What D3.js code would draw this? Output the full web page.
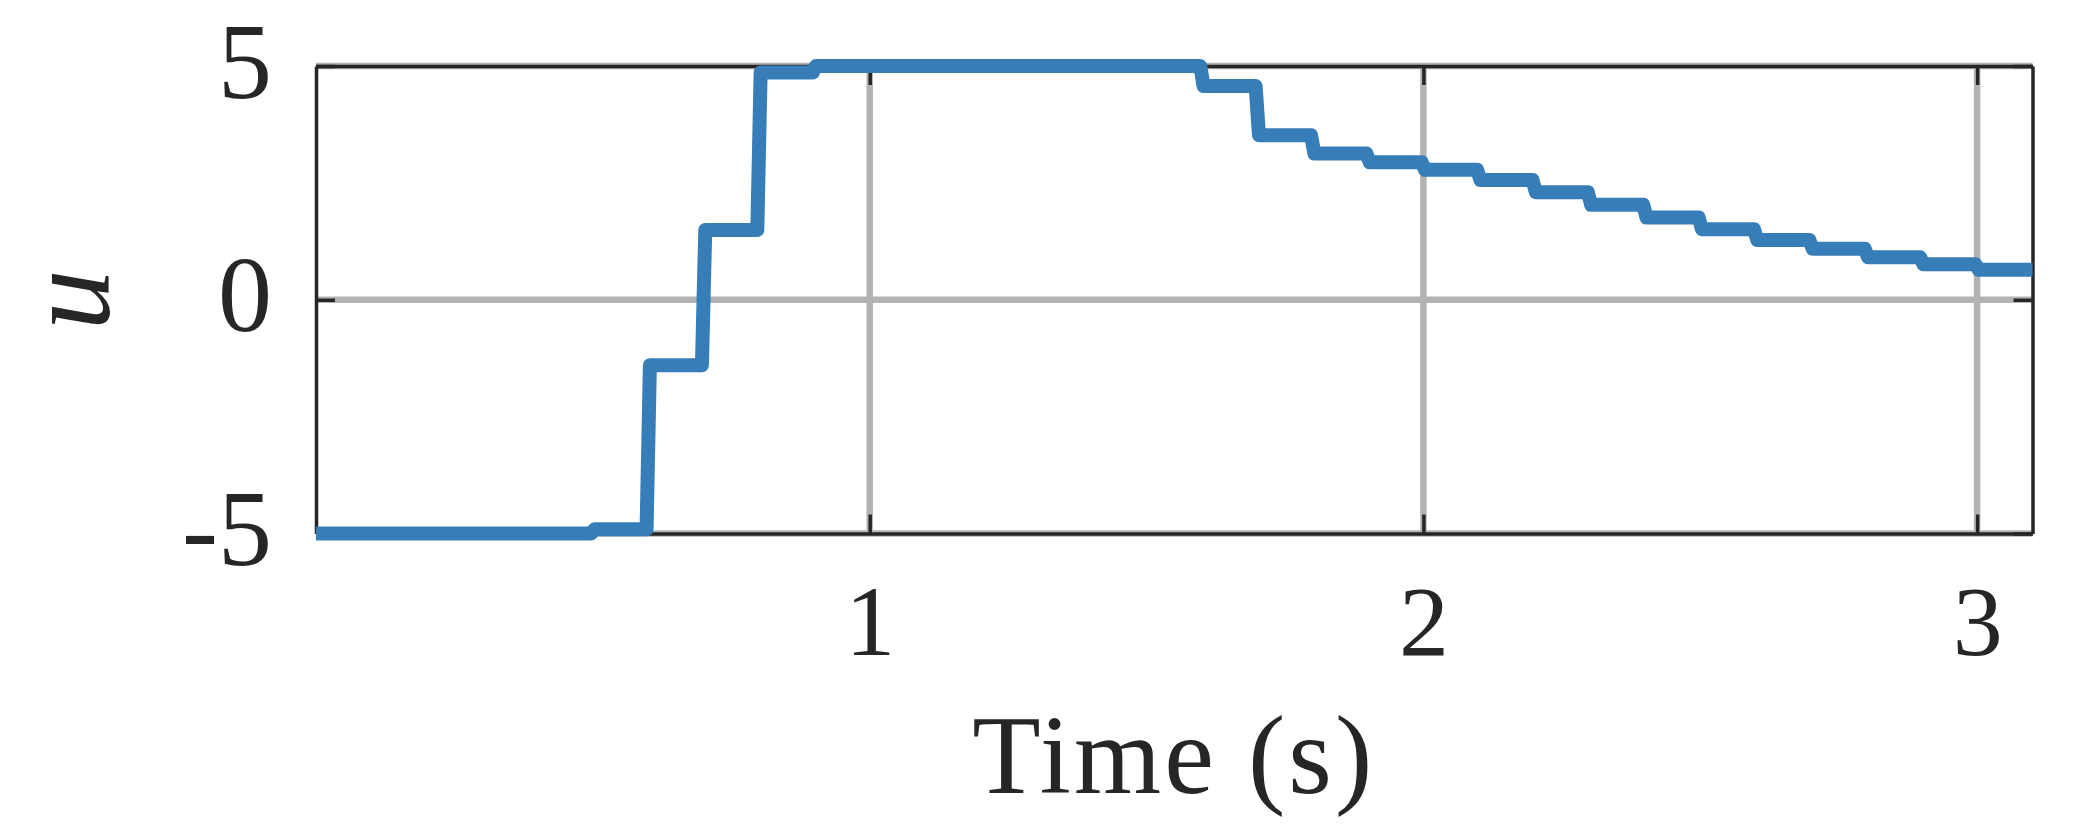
<!DOCTYPE html>
<html>
<head>
<meta charset="utf-8">
<script src="https://cdn.jsdelivr.net/npm/d3@7/dist/d3.min.js"></script>
<style>
  html, body { margin: 0; padding: 0; background: #ffffff; }
  svg { display: block; }
</style>
</head>
<body>
<div id="chart"></div>
<script>
// ---- data ----
const stepTimes  = [0, 0.5, 0.6, 0.7, 0.8, 0.9, 1.6, 1.7, 1.8, 1.9, 2.0, 2.1, 2.2, 2.3, 2.4, 2.5, 2.6, 2.7, 2.8, 2.9, 3.0];
const stepValues = [-5, -4.91, -1.40, 1.49, 4.86, 5.0, 4.57, 3.52, 3.13, 2.94, 2.78, 2.56, 2.30, 2.03, 1.76, 1.51, 1.28, 1.09, 0.91, 0.76, 0.64];
const endTime = 3.1;
const rampHalf = 0.003;          // half-width of each sampled transition (s)
const xDomain = [0, 3.1];
const yDomain = [-5, 5];
const xTickValues = [1, 2, 3];
const yTickValues = [-5, 0, 5];
const xLabel = "Time (s)";
const yLabel = "u";

// ---- layout ----
const W = 2083, H = 833;
const margin = { left: 316, right: 50.5, top: 66, bottom: 299.5 };
const innerW = W - margin.left - margin.right;
const innerH = H - margin.top - margin.bottom;
const textColor = "#262626";
const serif = "'Liberation Serif', 'Times New Roman', serif";

// build the step polyline from the step arrays
const points = [];
stepTimes.forEach((t, i) => {
  if (i === 0) { points.push([t, stepValues[0]]); }
  else {
    points.push([t - rampHalf, stepValues[i - 1]]);
    points.push([t + rampHalf, stepValues[i]]);
  }
});
points.push([endTime, stepValues[stepValues.length - 1]]);

const svg = d3.select("#chart").append("svg")
  .attr("width", W).attr("height", H);

const g = svg.append("g").attr("transform", `translate(${margin.left},${margin.top})`);

const x = d3.scaleLinear().domain(xDomain).range([0, innerW]);
const y = d3.scaleLinear().domain(yDomain).range([innerH, 0]);

// grid
const grid = g.append("g").attr("stroke", "#b3b3b3").attr("stroke-width", 6.5);
grid.selectAll("line.vx").data(xTickValues).join("line")
  .attr("x1", d => x(d)).attr("x2", d => x(d))
  .attr("y1", 0).attr("y2", innerH);
grid.selectAll("line.hy").data(yTickValues).join("line")
  .attr("x1", 0).attr("x2", innerW)
  .attr("y1", d => y(d)).attr("y2", d => y(d));

// axes
const tickLen = 19;
function styleAxis(sel, showLabels) {
  sel.select(".domain").attr("stroke", textColor).attr("stroke-width", 3.5);
  sel.selectAll(".tick line").attr("stroke", textColor).attr("stroke-width", 3.5);
  if (!showLabels) sel.selectAll(".tick text").remove();
  sel.attr("font-family", serif).attr("fill", textColor);
  sel.selectAll(".tick text").attr("fill", textColor);
}

const axB = g.append("g").attr("transform", `translate(0,${innerH})`)
  .call(d3.axisBottom(x).tickValues(xTickValues).tickSize(-tickLen).tickSizeOuter(0).tickFormat(d3.format("d")));
styleAxis(axB, true);
axB.attr("font-size", 100);
axB.selectAll(".tick text").attr("y", 121.5).attr("dy", 0);

const axT = g.append("g")
  .call(d3.axisTop(x).tickValues(xTickValues).tickSize(-tickLen).tickSizeOuter(0));
styleAxis(axT, false);

const axL = g.append("g")
  .call(d3.axisLeft(y).tickValues(yTickValues).tickSize(-tickLen).tickSizeOuter(0).tickFormat(d => d < 0 ? "-" + Math.abs(d) : String(d)));
styleAxis(axL, true);
axL.attr("font-size", 108);
axL.selectAll(".tick text").attr("x", -44).attr("y", 31).attr("dy", 0).attr("text-anchor", "end");

const axR = g.append("g").attr("transform", `translate(${innerW},0)`)
  .call(d3.axisRight(y).tickValues(yTickValues).tickSize(-tickLen).tickSizeOuter(0));
styleAxis(axR, false);

// data line
const line = d3.line().x(d => x(d[0])).y(d => y(d[1]));
g.append("path").datum(points)
  .attr("d", line)
  .attr("fill", "none")
  .attr("stroke", "#377eb8")
  .attr("stroke-width", 14)
  .attr("stroke-linejoin", "round")
  .attr("stroke-linecap", "butt");

// axis labels
svg.append("text")
  .attr("x", margin.left + innerW / 2 - 2)
  .attr("y", 793)
  .attr("text-anchor", "middle")
  .attr("font-family", serif)
  .attr("font-size", 112)
  .attr("fill", textColor)
  .attr("textLength", 400)
  .attr("lengthAdjust", "spacing")
  .text(xLabel);

svg.append("text")
  .attr("transform", `translate(109,${margin.top + y(0)}) rotate(-90)`)
  .attr("text-anchor", "middle")
  .attr("font-family", serif)
  .attr("font-style", "italic")
  .attr("font-size", 122)
  .attr("fill", textColor)
  .text(yLabel);
</script>
</body>
</html>
